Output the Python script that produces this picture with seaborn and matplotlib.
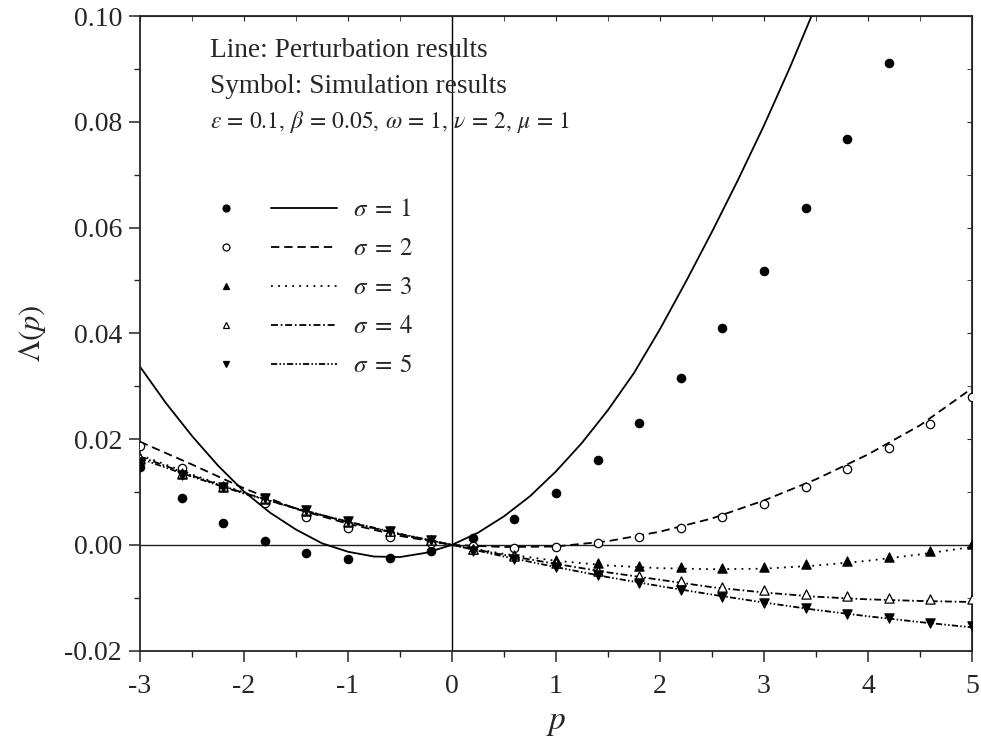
import numpy as np
import pandas as pd
import seaborn as sns
import matplotlib.pyplot as plt
from matplotlib.ticker import MultipleLocator, FormatStrFormatter
from matplotlib.lines import Line2D
from matplotlib.legend_handler import HandlerTuple

# ---- data ----
# simulation symbols
p_sym = [-3.0, -2.6, -2.2, -1.8, -1.4, -1.0, -0.6, -0.2, 0.2, 0.6, 1.0,
         1.4, 1.8, 2.2, 2.6, 3.0, 3.4, 3.8, 4.2, 4.6, 5.0]
sim_s1 = [0.0147, 0.0089, 0.0042, 0.0008, -0.0015, -0.0026, -0.0025, -0.0012,
          0.0013, 0.0049, 0.0098, 0.0160, 0.0231, 0.0315, 0.0410, 0.0518,
          0.0637, 0.0768, 0.0911]
sim_s2 = [0.0187, 0.0145, 0.0110, 0.0079, 0.0053, 0.0032, 0.0014, 0.0003,
          -0.0002, -0.0005, -0.0004, 0.0003, 0.0015, 0.0031, 0.0053, 0.0078,
          0.0109, 0.0144, 0.0184, 0.0228, 0.0279]
sim_s3 = [0.0163, 0.0134, 0.0110, 0.0087, 0.0065, 0.0044, 0.0026, 0.0009,
          -0.0008, -0.0019, -0.0028, -0.0034, -0.0040, -0.0042, -0.0043, -0.0042,
          -0.0037, -0.0031, -0.0023, -0.0012, 0.0001]
sim_s4 = [0.0165, 0.0136, 0.0111, 0.0088, 0.0066, 0.0045, 0.0026, 0.0009,
          -0.0008, -0.0021, -0.0035, -0.0049, -0.0059, -0.0069, -0.0079, -0.0086,
          -0.0092, -0.0097, -0.0100, -0.0102, -0.0103]
sim_s5 = [0.0156, 0.0132, 0.0110, 0.0088, 0.0066, 0.0046, 0.0027, 0.0009,
          -0.0011, -0.0027, -0.0042, -0.0056, -0.0072, -0.0086, -0.0098, -0.0110,
          -0.0120, -0.0130, -0.0139, -0.0147, -0.0154]

# perturbation curves
p_line_s1 = [-3.0, -2.75, -2.5, -2.25, -2.0, -1.75, -1.5, -1.25, -1.0, -0.75,
             -0.5, -0.25, 0.0, 0.25, 0.5, 0.75, 1.0, 1.25, 1.5, 1.75, 2.0,
             2.25, 2.5, 2.75, 3.0, 3.25, 3.5]
pert_s1 = [0.0337, 0.0268, 0.0206, 0.0150, 0.0101, 0.0061, 0.0029, 0.0003,
           -0.0013, -0.0022, -0.0023, -0.0015, 0.0, 0.0023, 0.0054, 0.0092,
           0.0139, 0.0193, 0.0255, 0.0325, 0.0408, 0.0498, 0.0592, 0.0690,
           0.0793, 0.0903, 0.1020]
p_line = [-3.0, -2.5, -2.0, -1.5, -1.0, -0.5, 0.0, 0.5, 1.0, 1.5, 2.0,
          2.5, 3.0, 3.5, 4.0, 4.5, 5.0]
pert_s2 = [0.0195, 0.0152, 0.0107, 0.0068, 0.0040, 0.0017, 0.0, -0.0004,
           -0.0003, 0.0007, 0.0025, 0.0050, 0.0084, 0.0124, 0.0171, 0.0226, 0.0296]
pert_s3 = [0.0170, 0.0133, 0.0099, 0.0069, 0.0043, 0.0020, 0.0, -0.0017,
           -0.0030, -0.0039, -0.0044, -0.0046, -0.0045, -0.0039, -0.0030, -0.0018, -0.0004]
pert_s4 = [0.0167, 0.0131, 0.0098, 0.0069, 0.0043, 0.0020, 0.0, -0.0019,
           -0.0036, -0.0052, -0.0066, -0.0080, -0.0090, -0.0098, -0.0103, -0.0106, -0.0108]
pert_s5 = [0.0163, 0.0129, 0.0097, 0.0069, 0.0044, 0.0021, 0.0, -0.0022,
           -0.0042, -0.0061, -0.0078, -0.0094, -0.0109, -0.0123, -0.0135, -0.0146, -0.0156]

labels = [r"$\sigma \;=\; 1$", r"$\sigma \;=\; 2$", r"$\sigma \;=\; 3$",
          r"$\sigma \;=\; 4$", r"$\sigma \;=\; 5$"]

# ---- style ----
sns.set_style("ticks")
plt.rcParams["font.family"] = ["Liberation Serif", "DejaVu Serif"]
plt.rcParams["mathtext.fontset"] = "stix"
plt.rcParams["axes.unicode_minus"] = False
plt.rcParams["lines.scale_dashes"] = False

sims = [sim_s1, sim_s2, sim_s3, sim_s4, sim_s5]
perts = [pert_s1, pert_s2, pert_s3, pert_s4, pert_s5]
xs_line = [p_line_s1, p_line, p_line, p_line, p_line]
markers = ["o", "o", "^", "^", "v"]
faces = ["k", "w", "k", "w", "k"]
msizes = [36, 36, 44, 44, 44]
styles = ["-", (0, (6, 3.5)), (0, (1.3, 3.8)), (0, (5, 2, 1.2, 2)),
          (0, (4.5, 1.6, 1.1, 1.6, 1.1, 1.6))]

fig = plt.figure(figsize=(9.81, 7.42), dpi=100)
ax = fig.add_axes([0.1427, 0.1231, 0.8481, 0.8553])

ax.axhline(0, color="#222222", lw=1.0, zorder=1)
ax.axvline(0, color="k", lw=1.0, zorder=1)

handles = []
for i in range(5):
    sns.lineplot(x=xs_line[i], y=perts[i], color="k", lw=1.3, linestyle=styles[i],
                 ax=ax, zorder=2)
    ps = p_sym[:len(sims[i])]
    sns.scatterplot(x=ps, y=sims[i], marker=markers[i], s=msizes[i],
                    facecolor=faces[i], edgecolor="k", linewidth=0.9,
                    ax=ax, zorder=3)
    h_m = Line2D([], [], marker=markers[i], linestyle="none", markersize=5,
                 markerfacecolor=faces[i], markeredgecolor="k", markeredgewidth=0.9)
    h_l = Line2D([], [], color="k", lw=1.3, linestyle=styles[i])
    handles.append((h_m, h_l))

ax.set_xlim(-3, 5)
ax.set_ylim(-0.02, 0.10)
ax.xaxis.set_major_locator(MultipleLocator(1))
ax.xaxis.set_minor_locator(MultipleLocator(0.5))
ax.yaxis.set_major_locator(MultipleLocator(0.02))
ax.yaxis.set_minor_locator(MultipleLocator(0.01))
ax.yaxis.set_major_formatter(FormatStrFormatter("%.2f"))
ax.xaxis.set_major_formatter(FormatStrFormatter("%d"))
ax.tick_params(which="major", direction="out", length=8, width=1.1,
               labelsize=20, pad=5)
ax.tick_params(axis="x", which="major", pad=9)
ax.tick_params(which="minor", direction="out", length=4.5, width=1.0)
for s in ax.spines.values():
    s.set_linewidth(1.3)
    s.set_visible(True)

# inward ticks on top / right
top = ax.secondary_xaxis("top")
top.xaxis.set_major_locator(MultipleLocator(1))
top.xaxis.set_minor_locator(MultipleLocator(0.5))
top.tick_params(which="both", direction="in", length=3.5, labeltop=False)
right = ax.secondary_yaxis("right")
right.yaxis.set_major_locator(MultipleLocator(0.02))
right.yaxis.set_minor_locator(MultipleLocator(0.01))
right.tick_params(which="both", direction="in", length=3.5, labelright=False)

ax.set_xlabel(r"$\mathit{p}$", fontsize=24, labelpad=6)
ax.set_ylabel(r"$\mathit{\Lambda}(p)$", fontsize=22, labelpad=12)

ax.text(0.084, 0.935, "Line: Perturbation results", transform=ax.transAxes,
        fontsize=19.6, va="baseline")
ax.text(0.084, 0.879, "Symbol: Simulation results", transform=ax.transAxes,
        fontsize=19.6, va="baseline")
ax.text(0.084, 0.823,
        r"$\varepsilon \,=\, 0.1,\, \beta \,=\, 0.05,\, \omega \,=\, 1,\, \nu \,=\, 2,\, \mu \,=\, 1$",
        transform=ax.transAxes, fontsize=17, va="baseline")

ax.legend(handles, labels, handler_map={tuple: HandlerTuple(ndivide=None, pad=0.49)},
          loc="upper left", bbox_to_anchor=(0.0637, 0.712), frameon=False,
          fontsize=18, handlelength=5.75, handletextpad=0.64, labelspacing=0.66,
          borderpad=0, borderaxespad=0, numpoints=1)

fig.savefig("out.png", dpi=100)
